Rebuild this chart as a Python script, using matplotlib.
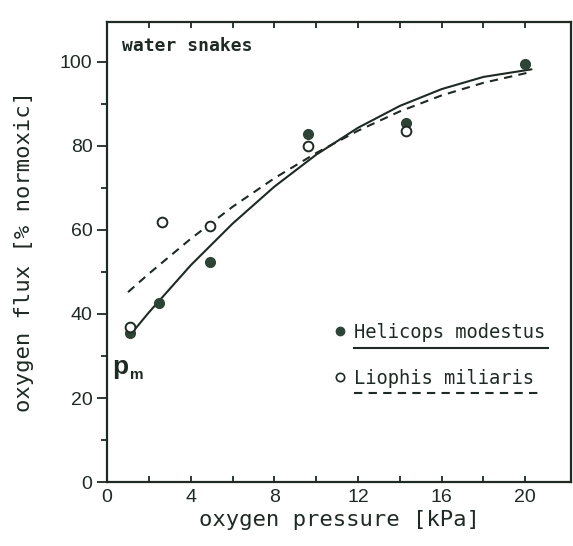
import matplotlib
matplotlib.use("Agg")
import matplotlib.pyplot as plt
import numpy as np

# measured points (oxygen pressure kPa, flux % normoxic)
helicops_x = [1.1, 2.5, 4.9, 9.6, 14.3, 20.0]
helicops_y = [35.5, 42.5, 52.3, 82.8, 85.4, 99.5]
liophis_x = [1.1, 2.6, 4.9, 9.6, 14.3]
liophis_y = [36.8, 61.8, 60.9, 80.0, 83.5]

# fitted curves
fit_h_x = [1.1, 2.0, 4.0, 6.0, 8.0, 10.0, 12.0, 14.0, 16.0, 18.0, 20.3]
fit_h_y = [35.0, 40.4, 51.6, 61.5, 70.3, 77.9, 84.3, 89.5, 93.5, 96.4, 98.2]
fit_l_x = [1.0, 2.0, 4.0, 6.0, 8.0, 10.0, 12.0, 14.0, 16.0, 18.0, 20.3]
fit_l_y = [45.2, 49.6, 57.9, 65.5, 72.3, 78.3, 83.6, 88.2, 92.0, 95.0, 97.6]

x_ticks = [0, 4, 8, 12, 16, 20]
y_ticks = [0, 20, 40, 60, 80, 100]

ink = "#1f2a24"
dot = "#2c4336"
mono = "DejaVu Sans Mono"

fig = plt.figure(figsize=(5.73, 5.46), dpi=100)
ax = fig.add_axes([0.187, 0.117, 0.810, 0.843])

ax.plot(fit_h_x, fit_h_y, color=ink, lw=1.5, solid_capstyle="round")
ax.plot(fit_l_x, fit_l_y, color=ink, lw=1.5, ls=(0, (4, 3)))
ax.plot(helicops_x, helicops_y, "o", ms=7, mfc=dot, mec=dot, zorder=3)
ax.plot(liophis_x, liophis_y, "o", ms=7, mfc="white", mec=ink, mew=1.4, zorder=4)

ax.set_xlim(0, 22.2)
ax.set_ylim(0, 109.5)
ax.set_xticks(x_ticks)
ax.set_yticks(y_ticks)
ax.set_xticks([2, 6, 10, 14, 18], minor=True)
ax.set_yticks([10, 30, 50, 70, 90], minor=True)
ax.tick_params(axis="y", which="both", direction="out", length=7, width=1.3,
               colors=ink, labelsize=14, left=True, right=False)
ax.tick_params(axis="y", which="minor", length=4)
ax.tick_params(axis="x", which="both", direction="in", length=4, width=1.3,
               colors=ink, labelsize=14, top=True, pad=5)
for lab in ax.get_xticklabels() + ax.get_yticklabels():
    lab.set_fontfamily("Liberation Sans")
for s in ax.spines.values():
    s.set_color(ink)
    s.set_linewidth(1.6)

ax.set_xlabel("oxygen pressure [kPa]", fontsize=16, family=mono, color=ink, labelpad=3)
ax.set_ylabel("oxygen flux [% normoxic]", fontsize=16, family=mono, color=ink, labelpad=19)

ax.text(0.7, 103.8, "water snakes", fontsize=13, family=mono, weight="bold",
        color=ink, va="center")
ax.text(0.25, 27.5, "p", fontsize=19, weight="bold", color=ink, va="center",
        family="Liberation Sans")
ax.text(1.1, 25.5, "m", fontsize=11, weight="bold", color=ink, va="center",
        family="Liberation Sans")

# legend drawn by hand, as in the original
ax.plot([11.13], [35.9], "o", ms=6, mfc=dot, mec=dot)
ax.text(11.8, 35.6, "Helicops modestus", fontsize=13.5, family=mono, color=ink, va="center")
ax.plot([11.8, 21.1], [32.0, 32.0], color=ink, lw=1.5)
ax.plot([11.13], [25.1], "o", ms=6, mfc="white", mec=ink, mew=1.2)
ax.text(11.8, 24.6, "Liophis miliaris", fontsize=13.5, family=mono, color=ink, va="center")
ax.plot([11.8, 20.65], [21.2, 21.2], color=ink, lw=1.5, ls=(0, (4, 3)))

fig.savefig("out.png", dpi=100)
